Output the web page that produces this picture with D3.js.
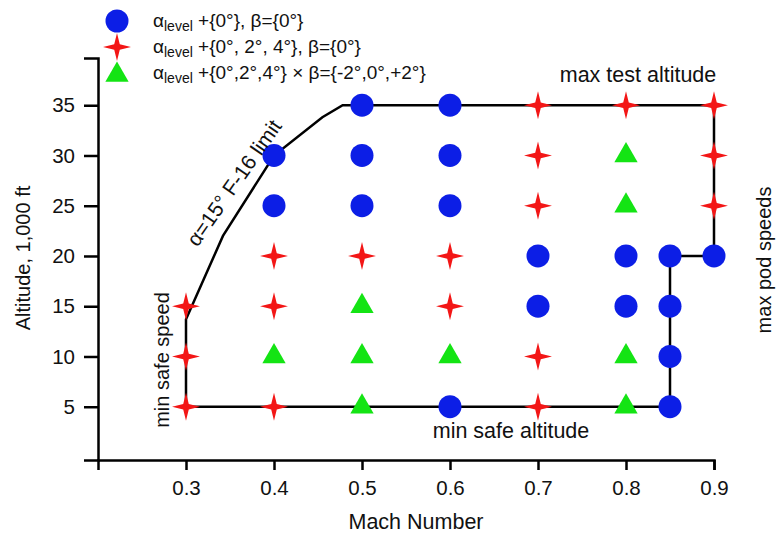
<!DOCTYPE html>
<html>
<head>
<meta charset="utf-8">
<script src="https://cdn.jsdelivr.net/npm/d3@7"></script>
<style>
  body { margin: 0; background: #fff; }
  svg text { font-family: "Liberation Sans", Arial, sans-serif; fill: #111; }
</style>
</head>
<body>
<div id="chart"></div>
<script>
// data
const machTicks = [0.3, 0.4, 0.5, 0.6, 0.7, 0.8, 0.9];
const altTicks = [5, 10, 15, 20, 25, 30, 35];

// alpha level only
const blueCircles = [
    [0.4, 25], [0.4, 30],
    [0.5, 25], [0.5, 30], [0.5, 35],
    [0.6, 5], [0.6, 25], [0.6, 30], [0.6, 35],
    [0.7, 15], [0.7, 20],
    [0.8, 15], [0.8, 20],
    [0.85, 5], [0.85, 10], [0.85, 15], [0.85, 20],
    [0.9, 20]
];
// alpha sweep
const redStars = [
    [0.3, 5], [0.3, 10], [0.3, 15],
    [0.4, 5], [0.4, 15], [0.4, 20],
    [0.5, 20],
    [0.6, 15], [0.6, 20],
    [0.7, 5], [0.7, 10], [0.7, 25], [0.7, 30], [0.7, 35],
    [0.8, 35],
    [0.9, 25], [0.9, 30], [0.9, 35]
];
// alpha x beta sweep
const greenTriangles = [
    [0.4, 10],
    [0.5, 5], [0.5, 10], [0.5, 15],
    [0.6, 10],
    [0.8, 5], [0.8, 10], [0.8, 25], [0.8, 30]
];
// test envelope
const envelope = [
    [0.3, 5], [0.3, 13.7], [0.342, 22], [0.4, 30], [0.455, 33.8], [0.478, 35],
    [0.9, 35], [0.9, 20], [0.85, 20], [0.85, 5], [0.3, 5]
];

const legendLabels = ['+{0°}, β={0°}', '+{0°, 2°, 4°}, β={0°}', '+{0°,2°,4°} × β={-2°,0°,+2°}'];

const width = 778, height = 536;
const blue = '#0c1ee6', red = '#f31616', green = '#14e414';

const x = d3.scaleLinear().domain([0.2, 0.9]).range([98, 714]);
const y = d3.scaleLinear().domain([-0.3, 39.7]).range([460, 58]);

// four pointed star, concave sides
const star4 = {
    draw(ctx, size) {
        const R = Math.sqrt(size) / 2, r = R * 0.28;
        for (let i = 0; i < 8; i++) {
            const a = i * Math.PI / 4 - Math.PI / 2;
            const rr = i % 2 ? r : R;
            const px = Math.cos(a) * rr, py = Math.sin(a) * rr;
            i ? ctx.lineTo(px, py) : ctx.moveTo(px, py);
        }
        ctx.closePath();
    }
};

const svg = d3.select('#chart').append('svg')
    .attr('width', width)
    .attr('height', height);

// axes
const xAxis = svg.append('g')
    .attr('transform', 'translate(0,460)')
    .call(d3.axisBottom(x).tickValues(machTicks).tickSizeOuter(0).tickSize(10).tickPadding(10).tickFormat(d3.format('.1f')));
const yAxis = svg.append('g')
    .attr('transform', 'translate(98,0)')
    .call(d3.axisLeft(y).tickValues(altTicks).tickSizeOuter(0).tickSize(14).tickPadding(9));

[xAxis, yAxis].forEach(g => {
    g.select('.domain').attr('stroke', '#000').attr('stroke-width', 2.5);
    g.selectAll('.tick line').attr('stroke', '#000').attr('stroke-width', 2.5);
    g.selectAll('.tick text').attr('font-size', 20.5).attr('fill', '#111')
        .attr('font-family', '"Liberation Sans", Arial, sans-serif');
});

// envelope
svg.append('path')
    .datum(envelope)
    .attr('d', d3.line().x(d => x(d[0])).y(d => y(d[1])))
    .attr('fill', 'none')
    .attr('stroke', '#000')
    .attr('stroke-width', 2.5);

// points
const circleSym = d3.symbol().type(d3.symbolCircle).size(Math.PI * 11.5 * 11.5);
const starSym = d3.symbol().type(star4).size(28 * 28);
const triSym = d3.symbol().type(d3.symbolTriangle).size(235);

const drawPts = (data, sym, color) => {
    svg.append('g').selectAll('path')
        .data(data)
        .join('path')
        .attr('transform', d => `translate(${x(d[0])},${y(d[1])})`)
        .attr('d', sym)
        .attr('fill', color);
};
drawPts(greenTriangles, triSym, green);
drawPts(redStars, starSym, red);
drawPts(blueCircles, circleSym, blue);

// legend
const legend = svg.append('g');
const syms = [[circleSym, blue], [starSym, red], [triSym, green]];
legendLabels.forEach((lab, i) => {
    const ly = 21 + i * 26;
    legend.append('path')
        .attr('transform', `translate(117,${ly + (i === 2 ? 2 : 0)})`)
        .attr('d', syms[i][0])
        .attr('fill', syms[i][1]);
    const t = legend.append('text')
        .attr('x', 153)
        .attr('y', ly + 6)
        .attr('font-size', 19);
    t.append('tspan').text('α');
    t.append('tspan').attr('font-size', 14).attr('dy', 4).text('level');
    t.append('tspan').attr('dy', -4).text(' ' + lab);
});

// annotations
svg.append('text')
    .attr('x', 638).attr('y', 82)
    .attr('text-anchor', 'middle')
    .attr('font-size', 21.5)
    .text('max test altitude');

svg.append('text')
    .attr('x', 511).attr('y', 438)
    .attr('text-anchor', 'middle')
    .attr('font-size', 21.5)
    .text('min safe altitude');

svg.append('text')
    .attr('transform', 'translate(169,360) rotate(-90)')
    .attr('text-anchor', 'middle')
    .attr('font-size', 20)
    .text('min safe speed');

svg.append('text')
    .attr('transform', 'translate(771,260) rotate(-90)')
    .attr('text-anchor', 'middle')
    .attr('font-size', 20)
    .text('max pod speeds');

svg.append('text')
    .attr('transform', 'translate(240,187) rotate(-55)')
    .attr('text-anchor', 'middle')
    .attr('font-size', 21)
    .text('α=15° F-16 limit');

// axis titles
svg.append('text')
    .attr('x', 416).attr('y', 529)
    .attr('text-anchor', 'middle')
    .attr('font-size', 21.5)
    .text('Mach Number');

svg.append('text')
    .attr('transform', 'translate(30,258) rotate(-90)')
    .attr('text-anchor', 'middle')
    .attr('font-size', 20)
    .text('Altitude, 1,000 ft');
</script>
</body>
</html>
